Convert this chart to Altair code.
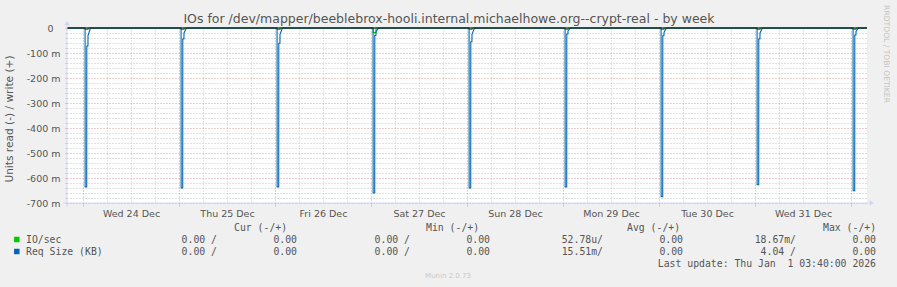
import altair as alt
import pandas as pd

# ---------------- data ----------------
spike_days = ["2025-12-24", "2025-12-25", "2025-12-26", "2025-12-27", "2025-12-28",
              "2025-12-29", "2025-12-30", "2025-12-31", "2026-01-01"]
# Req Size (KB), read side (values in units, "m" = milli)
req_peak = [-0.636, -0.640, -0.636, -0.660, -0.640, -0.636, -0.675, -0.627, -0.651]
req_step = [-0.072, -0.044, -0.061, -0.030, -0.055, -0.024, -0.031, -0.044, -0.028]
req_knee = [-0.030, -0.020, -0.025, -0.015, -0.025, -0.012, -0.018, -0.020, -0.014]
# IO/sec, read side
io_peak = [-0.006, -0.006, -0.006, -0.0187, -0.006, -0.006, -0.006, -0.006, -0.006]

# sample times (minutes after midnight) around each nightly burst
req_offsets_min = [0, 31, 32, 56, 57, 74, 75, 112]
io_offsets_min = [0, 31, 32, 74, 75]

x_start = "2025-12-23T20:00:00Z"
x_end = "2026-01-01T04:00:00Z"

legend_names = ["IO/sec", "Req Size (KB)"]
legend_colors = ["#00cc00", "#0066b3"]
cur_minus = ["0.00 /", "0.00 /"]
cur_plus = ["0.00", "0.00"]
min_minus = ["0.00 /", "0.00 /"]
min_plus = ["0.00", "0.00"]
avg_minus = ["52.78u/", "15.51m/"]
avg_plus = ["0.00", "0.00"]
max_minus = ["18.67m/", "4.04 /"]
max_plus = ["0.00", "0.00"]
headers = ["Cur (-/+)", "Min (-/+)", "Avg (-/+)", "Max (-/+)"]

title_text = "IOs for /dev/mapper/beeblebrox-hooli.internal.michaelhowe.org--crypt-real - by week"
y_title = "Units read (-) / write (+)"
last_update = "Last update: Thu Jan \u00a01 03:40:00 2026"
munin_ver = "Munin 2.0.73"
rrd_credit = "RRDTOOL / TOBI OETIKER"

# ---------------- build tables ----------------
req_rows, io_rows = [], []
k = 0
req_rows.append({"t": x_start, "v": 0.0, "o": k}); k += 1
for i, d in enumerate(spike_days):
    base = pd.Timestamp(d + "T00:00:00Z")
    vals = [0.0, 0.0, req_peak[i], req_peak[i], req_step[i], req_step[i], req_knee[i], 0.0]
    for off, v in zip(req_offsets_min, vals):
        req_rows.append({"t": (base + pd.Timedelta(minutes=off)).strftime("%Y-%m-%dT%H:%M:%SZ"), "v": v, "o": k}); k += 1
req_rows.append({"t": x_end, "v": 0.0, "o": k})

k = 0
io_rows.append({"t": x_start, "v": 0.0, "o": k}); k += 1
for i, d in enumerate(spike_days):
    base = pd.Timestamp(d + "T00:00:00Z")
    vals = [0.0, 0.0, io_peak[i], io_peak[i], 0.0]
    for off, v in zip(io_offsets_min, vals):
        io_rows.append({"t": (base + pd.Timedelta(minutes=off)).strftime("%Y-%m-%dT%H:%M:%SZ"), "v": v, "o": k}); k += 1
io_rows.append({"t": x_end, "v": 0.0, "o": k})

req_df = pd.DataFrame(req_rows)
io_df = pd.DataFrame(io_rows)

# ---------------- styling ----------------
W, H = 800, 175
PL, PT = 67, 28
FONT = "DejaVu Sans"
MONO = "DejaVu Sans Mono"
TXT = "#555555"
AXISC = "#cfd6f8"
MAJOR = "#e59a9a"
MINOR = "#c4c4c4"

x_ticks = [int(t.value // 10**6) for t in pd.date_range("2025-12-24T00:00:00Z", "2026-01-01T00:00:00Z", freq="6h")]
y_ticks = [round(-0.7 + 0.02 * i, 2) for i in range(36)]

xscale = alt.Scale(type="utc", domain=[pd.Timestamp(x_start).value // 10**6, pd.Timestamp(x_end).value // 10**6])
yscale = alt.Scale(domain=[-0.7, 0], nice=False, zero=False)

MAJ_X = "utchours(datum.value) == 0"
MAJ_Y = "abs(round(datum.value*1000)) % 100 == 0"

x_axis = alt.Axis(
    values=x_ticks, title=None, domain=False, grid=True,
    gridColor={"condition": {"test": MAJ_X, "value": MAJOR}, "value": MINOR},
    gridDash=[1, 2], gridWidth=1, gridOpacity=1,
    tickColor={"condition": {"test": MAJ_X, "value": MAJOR}, "value": "transparent"},
    tickSize=3, tickDash=[1, 1],
    labelExpr="utchours(datum.value) == 12 ? utcFormat(datum.value, '%a %d %b') : ''",
    labelFont=FONT, labelFontSize=9.5, labelColor=TXT, labelPadding=2, labelBaseline="top",
    labelFlush=False, labelOverlap=False,
)
y_axis = alt.Axis(
    values=y_ticks, title=None, domain=False, grid=True,
    gridColor={"condition": {"test": MAJ_Y, "value": MAJOR}, "value": MINOR},
    gridDash=[1, 2], gridWidth=1, gridOpacity=1,
    tickColor={"condition": {"test": MAJ_Y, "value": MAJOR}, "value": MINOR},
    tickSize=2,
    labelExpr=MAJ_Y + " ? (abs(datum.value) < 1e-9 ? '0' : '-' + abs(round(datum.value*1000)) + ' m') : ''",
    labelPadding={"condition": {"test": "abs(datum.value) < 1e-9", "value": 12}, "value": 5},
    labelFont=FONT, labelFontSize=9.5, labelColor=TXT, labelOverlap=False, labelFlush=False,
)

io_line = alt.Chart(io_df).mark_line(color="#00cc00", strokeWidth=1.2, interpolate="linear").encode(
    x=alt.X("t:T", scale=xscale, axis=x_axis),
    y=alt.Y("v:Q", scale=yscale, axis=y_axis),
    order="o:Q",
)
req_line = alt.Chart(req_df).mark_line(color="#0066b3", strokeWidth=1.1, interpolate="linear").encode(
    x=alt.X("t:T", scale=xscale, axis=x_axis),
    y=alt.Y("v:Q", scale=yscale, axis=y_axis),
    order="o:Q",
)

one = alt.Data(values=[{"z": 0}])

zero_line = alt.Chart(one).mark_rule(color="#000000", strokeWidth=1).encode(
    x=alt.value(0), x2=alt.value(W), y=alt.Y("z:Q", scale=yscale, axis=y_axis)
)

x_dom = alt.Chart(one).mark_rule(color=AXISC, strokeWidth=1).encode(
    x=alt.value(-4), x2=alt.value(W + 3), y=alt.value(H))
y_dom = alt.Chart(one).mark_rule(color=AXISC, strokeWidth=1).encode(
    x=alt.value(0), y=alt.value(H + 4), y2=alt.value(-3))
x_arrow = alt.Chart(one).mark_point(shape="triangle-right", filled=True, color=AXISC, size=28, opacity=1).encode(
    x=alt.value(W + 5), y=alt.value(H))
y_arrow = alt.Chart(one).mark_point(shape="triangle-up", filled=True, color=AXISC, size=28, opacity=1).encode(
    x=alt.value(0), y=alt.value(-5))


def label(text, x, y, align="left", font=MONO, size=9.8, color=TXT, angle=0, baseline="middle"):
    return alt.Chart(alt.Data(values=[{"s": text}])).mark_text(
        align=align, baseline=baseline, font=font, fontSize=size, color=color, angle=angle
    ).encode(x=alt.value(x - PL), y=alt.value(y - PT), text="s:N")


layers = [io_line, req_line, zero_line, x_dom, y_dom, x_arrow, y_arrow]

layers.append(label(title_text, 449, 19, align="center", font=FONT, size=12.5, color=TXT))
layers.append(label(y_title, 10, 119, align="center", font=FONT, size=10.6, color=TXT, angle=270))
layers.append(label(rrd_credit, 886, 54, align="center", font=FONT, size=7.6, color="#c4c4c4", angle=90))

# legend
header_x = [234, 426, 627, 823]
for hx, h in zip(header_x, headers):
    layers.append(label(h, hx, 227.5))
row_y = [239.5, 251.5]
col_right = [217, 297, 410, 490, 603, 683, 796, 876]
for r in range(2):
    sq = alt.Chart(one).mark_square(filled=True, color=legend_colors[r], size=30, opacity=1).encode(
        x=alt.value(16.8 - PL), y=alt.value(row_y[r] - PT))
    layers.append(sq)
    layers.append(label(legend_names[r], 26, row_y[r]))
    cells = [cur_minus[r], cur_plus[r], min_minus[r], min_plus[r],
             avg_minus[r], avg_plus[r], max_minus[r], max_plus[r]]
    for cx, c in zip(col_right, cells):
        layers.append(label(c, cx, row_y[r], align="right"))
layers.append(label(last_update, 876, 264, align="right"))
layers.append(label(munin_ver, 448, 276, align="center", font=FONT, size=7, color="#c8c8c8"))

chart = alt.layer(*layers).properties(
    width=W, height=H,
    autosize=alt.AutoSizeParams(type="none"),
    padding={"left": PL, "top": PT, "right": 897 - PL - W, "bottom": 287 - PT - H},
    background="#f0f0f0",
).configure_view(stroke=None, fill="#ffffff")

chart.save("out.html", embed_options={"renderer": "svg", "actions": False})
